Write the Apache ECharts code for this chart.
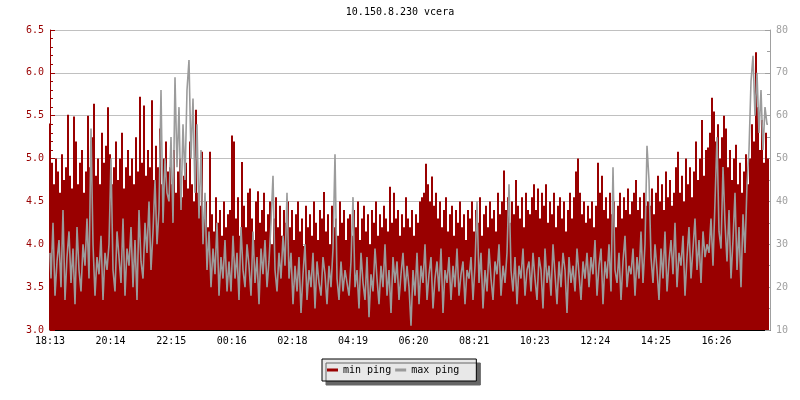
<!DOCTYPE html>
<html><head><meta charset="utf-8">
<script src="https://cdn.jsdelivr.net/npm/echarts@6/dist/echarts.min.js"></script>
<style>html,body{margin:0;padding:0;background:#fff}#c{width:800px;height:400px}</style>
</head><body><div id="c"></div>
<script>
const chartTitle = '10.150.8.230 vcera';
const xLabels = ['18:13','20:14','22:15','00:16','02:18','04:19','06:20','08:21','10:23','12:24','14:25','16:26'];
const labelStepMinutes = 1333 / 11;
const sampleMinutes = 4;
const seriesNames = ['min ping', 'max ping'];

const minPing = [
 5.41,4.95,4.7,5.0,4.85,4.6,5.05,4.75,4.9,5.51,4.8,4.65,5.49,5.2,4.7,4.95,5.1,4.6,4.85,5.5,4.9,5.25,5.64,4.8,5.0,4.7,5.3,4.95,5.15,5.6,
 5.05,4.7,4.9,5.2,4.75,5.0,5.3,4.65,4.9,5.1,4.8,5.0,4.7,5.25,4.85,5.72,4.95,5.62,4.8,5.1,4.9,5.68,4.75,5.15,4.9,5.35,4.7,5.0,5.2,4.85,
 4.9,4.7,5.1,4.6,4.85,5.0,4.55,4.8,4.95,4.65,5.2,4.7,4.5,5.57,4.6,4.45,5.08,4.3,4.5,4.2,5.08,4.35,4.15,4.55,4.25,4.4,4.1,4.5,4.2,4.35,
 4.4,5.27,5.2,4.3,4.55,4.1,4.96,4.45,4.2,4.6,4.65,4.3,4.05,4.5,4.62,4.25,4.4,4.6,4.15,4.35,4.5,4.0,4.3,4.55,4.2,4.45,4.1,4.4,4.25,4.5,
 4.2,4.4,4.05,4.35,4.5,4.15,4.3,3.98,4.45,4.2,4.35,4.1,4.5,4.25,4.05,4.4,4.3,4.61,4.15,4.35,4.0,4.45,4.2,4.3,4.1,4.5,4.25,4.4,4.05,4.3,
 4.35,4.1,4.4,4.2,4.5,4.05,4.3,4.45,4.15,4.35,4.0,4.4,4.25,4.5,4.1,4.35,4.2,4.45,4.3,4.15,4.67,4.25,4.6,4.3,4.4,4.1,4.35,4.2,4.55,4.3,
 4.2,4.4,4.1,4.35,4.25,4.5,4.55,4.6,4.94,4.7,4.5,4.79,4.45,4.6,4.3,4.5,4.2,4.4,4.55,4.15,4.35,4.45,4.1,4.4,4.25,4.5,4.2,4.35,4.05,4.4,
 4.3,4.5,4.15,4.4,4.25,4.55,4.1,4.35,4.45,4.2,4.5,4.3,4.4,4.15,4.6,4.35,4.5,4.86,4.4,4.55,4.25,4.5,4.35,4.75,4.45,4.3,4.55,4.2,4.6,4.4,
 4.35,4.55,4.7,4.4,4.65,4.3,4.6,4.45,4.7,4.25,4.5,4.35,4.6,4.2,4.45,4.55,4.3,4.5,4.15,4.4,4.6,4.3,4.55,4.85,5.0,4.6,4.35,4.5,4.25,4.45,
 4.3,4.5,4.2,4.45,4.95,4.6,4.8,4.4,4.55,4.3,4.6,4.35,4.5,4.2,4.45,4.6,4.3,4.55,4.4,4.65,4.35,4.5,4.6,4.75,4.4,4.55,4.3,4.6,4.45,4.5,
 4.45,4.65,4.35,4.6,4.8,4.5,4.7,4.4,4.85,4.55,4.75,4.45,4.6,4.9,5.08,4.6,4.8,4.5,5.0,4.7,4.9,4.55,4.85,5.2,4.75,5.0,5.45,4.8,5.1,5.13,
 5.3,5.71,5.55,5.2,5.4,5.0,5.25,5.5,5.35,4.9,5.1,4.75,5.0,5.16,4.7,4.95,4.6,4.85,5.05,4.7,5.0,5.4,5.2,6.24,5.6,5.1,5.45,4.95,5.3,5.0
];
const maxPing = [
 28,22,35,18,26,31,20,38,17,27,33,21,29,16,34,24,19,30,25,36,22,57,30,18,27,23,32,17,28,24,
 30,50,24,19,33,27,21,36,18,29,25,34,20,31,17,38,26,22,35,28,40,24,33,45,30,38,66,35,50,42,
 40,55,35,69,48,62,38,58,45,66,73,50,64,42,58,36,52,30,42,24,33,20,29,23,35,18,27,22,31,19,
 26,19,32,22,28,17,34,24,20,30,25,18,33,21,27,16,29,23,31,20,26,35,46,24,19,28,22,32,25,42,
 22,28,16,25,19,27,14,23,30,17,24,20,28,15,26,21,18,27,23,16,25,20,29,51,22,17,26,19,24,21,
 18,26,41,20,24,15,28,21,17,27,13,23,19,29,22,16,25,20,30,18,24,14,27,21,26,17,23,28,19,25,
 20,11,24,18,28,16,25,21,30,17,23,27,15,22,26,19,29,14,24,21,27,17,25,20,29,18,23,26,16,24,
 22,27,17,25,40,21,28,15,24,19,29,22,17,26,23,30,18,25,21,28,44,24,19,27,16,25,22,29,18,24,
 26,19,28,22,17,27,24,15,29,21,25,18,30,23,16,26,20,28,24,14,27,21,25,19,29,23,17,26,22,28,
 20,27,23,31,18,25,29,16,26,22,30,19,48,24,21,28,17,26,32,20,25,23,29,18,27,22,33,21,30,53,
 45,27,21,30,24,17,29,22,33,19,26,31,23,35,20,28,25,32,18,27,34,22,29,36,24,31,21,33,27,30,
 28,36,25,40,55,33,29,48,35,26,38,22,31,42,24,34,20,37,28,44,52,68,74,60,70,56,66,52,62,58
];

const FONT = 'DejaVu Sans Mono';
const RED = '#990000';
const GRAY = '#9b9b9b';

const chart = echarts.init(document.getElementById('c'), null, {renderer: 'canvas'});
chart.setOption({
  animation: false,
  backgroundColor: '#ffffff',
  title: {
    text: chartTitle, left: 'center', top: 2,
    textStyle: {fontFamily: FONT, fontSize: 10, fontWeight: 'normal', color: '#000'}
  },
  grid: {left: 50, right: 30, top: 30, bottom: 70, containLabel: false, outerBoundsMode: 'none'},
  legend: {
    left: 322, top: 359, orient: 'horizontal',
    data: [
      {name: seriesNames[0], icon: 'rect', itemStyle: {color: RED}},
      {name: seriesNames[1], icon: 'rect', itemStyle: {color: GRAY}}
    ],
    itemWidth: 11, itemHeight: 3, itemGap: 4,
    padding: [6, 17, 6, 5],
    backgroundColor: '#e8e8e8', borderColor: '#000', borderWidth: 1,
    shadowColor: '#666', shadowBlur: 0, shadowOffsetX: 4, shadowOffsetY: 4,
    textStyle: {fontFamily: FONT, fontSize: 10, color: '#000'},
    selectedMode: false
  },
  xAxis: {
    type: 'value', min: 0, max: 1440, interval: labelStepMinutes,
    axisLine: {show: true, lineStyle: {color: '#000', width: 1}},
    axisTick: {show: true, inside: true, length: 5, lineStyle: {color: '#000'}},
    splitLine: {show: false},
    axisLabel: {
      fontFamily: FONT, fontSize: 10, color: '#000', margin: 6,
      showMaxLabel: false,
      formatter: function (v) {
        const idx = Math.round(v / labelStepMinutes);
        if (Math.abs(v - idx * labelStepMinutes) > 0.5) return '';
        return xLabels[idx] || '';
      }
    }
  },
  yAxis: [
    {
      type: 'value', min: 3, max: 6.5, interval: 0.5, position: 'left',
      axisLine: {show: true, lineStyle: {color: RED, width: 1}},
      axisTick: {show: true, inside: true, length: 5, lineStyle: {color: RED}},
      minorTick: {show: true, splitNumber: 5, length: 3, lineStyle: {color: RED}},
      splitLine: {show: true, lineStyle: {color: '#c0c0c0', width: 1}},
      axisLabel: {fontFamily: FONT, fontSize: 10, color: RED, margin: 6,
        formatter: v => v.toFixed(1)}
    },
    {
      type: 'value', min: 10, max: 80, interval: 10, position: 'right',
      axisLine: {show: true, lineStyle: {color: '#a0a0a0', width: 1}},
      axisTick: {show: true, inside: true, length: 5, lineStyle: {color: '#a0a0a0'}},
      minorTick: {show: true, splitNumber: 2, length: 3, lineStyle: {color: '#a0a0a0'}},
      splitLine: {show: false},
      axisLabel: {fontFamily: FONT, fontSize: 10, color: '#a0a0a0', margin: 6}
    }
  ],
  series: [
    {
      name: seriesNames[0], type: 'bar', yAxisIndex: 0,
      barWidth: 2, z: 2, clip: true,
      data: minPing.map((v, i) => [i * sampleMinutes, v]),
      itemStyle: {color: RED, borderWidth: 0}
    },
    {
      name: seriesNames[1], type: 'line', yAxisIndex: 1, step: 'middle',
      symbol: 'none', z: 3,
      data: maxPing.map((v, i) => [i * sampleMinutes, v]),
      lineStyle: {color: GRAY, width: 1.6},
      itemStyle: {color: GRAY}
    }
  ]
});
</script>
</body></html>
